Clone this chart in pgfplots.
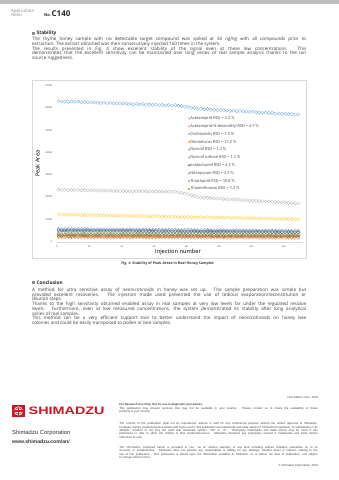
\documentclass[border=0pt]{standalone}
\usepackage{pgfplots}
\usepackage{pgfplotstable}
\pgfplotsset{compat=1.18}
\usepackage{fontspec}
\setmainfont{Open Sans}
\newfontfamily\chartfont{Carlito}
\newfontfamily\arialfont{Liberation Sans}
\definecolor{cA}{HTML}{5B9BD5}
\definecolor{cAN}{HTML}{ED7D31}
\definecolor{cC}{HTML}{A5A5A5}
\definecolor{cD}{HTML}{FFC000}
\definecolor{cF}{HTML}{4472C4}
\definecolor{cFS}{HTML}{70AD47}
\definecolor{cI}{HTML}{264478}
\definecolor{cN}{HTML}{9E480E}
\definecolor{cT}{HTML}{636363}
\definecolor{cTM}{HTML}{997300}
\definecolor{txt}{HTML}{3C3C3C}
\definecolor{axgray}{HTML}{595959}
\definecolor{boxgray}{HTML}{D9D9D9}
\definecolor{shred}{RGB}{205,22,34}

\pgfplotstableread{
x A AN C D F FS I N T TM
1 63170 2040 23360 12300 5740 4530 5120 2570 3420 3250
3 62920 2020 23230 12110 5660 4480 5090 2530 3340 2850
5 62980 2020 23270 12170 5690 4500 5090 2550 3350 3070
7 62740 2000 23140 12000 5620 4450 5060 2510 3330 2690
9 62920 2020 23240 12160 5690 4500 5060 2550 3390 3170
11 62750 2020 23150 12040 5640 4480 5050 2530 3340 2930
13 62890 2020 23220 12160 5680 4510 5040 2550 3360 3300
15 62560 1990 23060 11910 5580 4440 5010 2500 3320 2760
17 62640 1990 23090 12000 5610 4470 5010 2520 3360 3020
19 62500 1990 23030 11900 5580 4450 5000 2500 3310 2850
21 62630 2000 23090 12020 5630 4480 5010 2530 3330 3170
23 62380 1980 22960 11830 5550 4430 4980 2490 3310 2710
25 62440 1980 23000 11890 5580 4450 4980 2510 3340 3060
27 62200 1960 22870 11720 5510 4400 4950 2470 3260 2920
29 62380 1980 22970 11880 5580 4450 4950 2510 3300 3240
31 62210 1980 22880 11760 5520 4430 4930 2490 3310 2780
33 62350 1980 22950 11880 5570 4460 4930 2510 3350 3200
35 62020 1950 22790 11630 5470 4390 4900 2460 3250 2800
37 62100 1950 22820 11720 5500 4420 4900 2480 3270 3030
39 61960 1950 22760 11620 5470 4400 4890 2460 3280 2640
41 62090 1960 22820 11740 5520 4430 4900 2490 3320 3120
43 61840 1940 22690 11550 5440 4380 4870 2450 3240 2880
45 61900 1940 22730 11610 5470 4400 4870 2470 3250 3250
47 61660 1920 22600 11440 5400 4350 4840 2430 3230 2710
49 61840 1940 22700 11600 5470 4400 4840 2470 3290 2970
51 61670 1940 22610 11480 5420 4380 4830 2450 3240 2810
53 61810 1940 22680 11600 5460 4410 4820 2470 3260 3120
55 61480 1910 22520 11350 5360 4340 4790 2420 3220 2660
57 61560 1910 22550 11440 5390 4370 4790 2440 3260 3020
59 61420 1910 22490 11340 5360 4350 4780 2420 3210 2870
61 61550 1920 22550 11460 5410 4380 4790 2450 3230 3190
63 61300 1900 22420 11270 5330 4330 4760 2410 3210 2730
65 61360 1900 22460 11330 5360 4350 4760 2430 3240 3150
67 61120 1880 22330 11160 5290 4300 4730 2390 3160 2750
69 61300 1900 22430 11320 5360 4350 4730 2430 3200 2980
71 61130 1900 22340 11200 5300 4330 4710 2410 3210 2600
73 61270 1900 22410 11320 5350 4360 4710 2430 3250 3070
75 60940 1870 22250 11070 5250 4290 4680 2380 3150 2830
77 60860 1870 21950 11160 5280 4320 4680 2400 3170 3210
79 60560 1870 21560 11060 5250 4300 4670 2380 3180 2660
81 60530 1880 21290 11180 5300 4330 4680 2410 3220 2920
83 60110 1860 20830 10990 5220 4280 4650 2370 3140 2760
85 60020 1860 20530 11050 5250 4300 4650 2390 3150 3070
87 59620 1840 20080 10880 5180 4250 4620 2350 3130 2610
89 59640 1860 19850 11040 5250 4300 4620 2390 3190 2970
91 59440 1860 19700 10920 5200 4280 4610 2370 3140 2830
93 59540 1860 19710 11040 5240 4310 4600 2390 3160 3140
95 59190 1830 19490 10790 5140 4240 4570 2340 3120 2680
97 59240 1830 19460 10880 5170 4270 4570 2360 3160 3110
99 59070 1830 19340 10780 5140 4250 4560 2340 3110 2700
101 59170 1840 19340 10900 5190 4280 4570 2370 3130 2930
103 58890 1820 19150 10710 5110 4230 4540 2330 3110 2550
105 58920 1820 19130 10770 5140 4250 4540 2350 3140 3020
107 58650 1800 18950 10600 5070 4200 4510 2310 3060 2780
109 58810 1820 18980 10760 5140 4250 4510 2350 3100 3160
111 58600 1820 18830 10640 5080 4230 4490 2330 3110 2620
113 58710 1820 18840 10760 5130 4260 4490 2350 3150 2870
115 58360 1790 18620 10510 5030 4190 4460 2300 3050 2710
117 58400 1790 18600 10600 5060 4220 4460 2320 3070 3030
119 58240 1790 18470 10500 5030 4200 4450 2300 3080 2560
121 58340 1800 18470 10620 5080 4230 4460 2330 3120 2920
123 58050 1780 18290 10430 5000 4180 4430 2290 3040 2780
125 58090 1780 18260 10490 5030 4200 4430 2310 3050 3090
127 57820 1760 18080 10320 4960 4150 4400 2270 3030 2630
129 57970 1780 18110 10480 5030 4200 4400 2310 3090 3060
131 57770 1780 17970 10360 4980 4180 4390 2290 3040 2660
133 57880 1780 17970 10480 5020 4210 4380 2310 3060 2880
135 57520 1750 17750 10230 4920 4140 4350 2260 3020 2500
137 57570 1750 17730 10320 4950 4170 4350 2280 3060 2980
139 57410 1750 17600 10220 4920 4150 4340 2260 3010 2730
141 57500 1760 17610 10340 4970 4180 4350 2290 3030 3110
143 57220 1740 17420 10150 4890 4130 4320 2250 3010 2570
145 57260 1740 17390 10210 4920 4150 4320 2270 3040 2820
147 56980 1720 17210 10040 4850 4100 4290 2230 2960 2660
149 57140 1740 17250 10200 4920 4150 4290 2270 3000 2980
}\datatable

\newcommand{\bodyfont}{\fontsize{8}{8.3}\selectfont\color{txt}}
\newcommand{\legalfont}{\arialfont\fontsize{5}{5.85}\selectfont\color{txt}}

\begin{document}
\begin{tikzpicture}
\begin{scope}[x=1.755pt,y=-1.755pt]
\path[use as bounding box] (0,0) rectangle (339,480);
\fill[white] (0,0) rectangle (339,480);
% header
\fill[black!25] (0,0) rectangle (339,4);
\node[anchor=north west, inner sep=0, align=left, font=\fontsize{7.8}{8.2}\selectfont, text=black!45] at (11,8.6) {Application\\News};
\node[anchor=base west, inner sep=0, text=black!85] at (44,16.2) {\fontsize{7}{7}\selectfont\bfseries No.\,\fontsize{14}{14}\selectfont C140};
% Stability
\fill[black!45] (32,31.9) rectangle (34.8,34.7);
\node[anchor=west, inner sep=0, font=\fontsize{8.4}{9}\selectfont\bfseries, text=black!85] at (36.5,33.3) {Stability};
\node[anchor=north west, inner sep=0] at (32,37.2) {\parbox[t]{481pt}{\bodyfont
The thyme honey sample with no detectable target compound was spiked at 50 ng/kg with all compounds prior to\linebreak extraction. The extract obtained was then consecutively injected 150 times in the system.\par
The results presented in Fig.~4 show excellent stability of the signal even at these low concentrations. This\linebreak demonstrates that the excellent sensitivity can be maintained over long series of real sample analysis thanks to the ion\linebreak source ruggedness.}};
% chart frame
\draw[boxgray, line width=0.6pt] (32,80) rectangle (306,258);
\node[anchor=center, inner sep=0, font=\fontsize{6.3}{7}\selectfont\bfseries, text=txt] at (167.6,264) {Fig. 4\enspace Stability of Peak Areas in Real Honey Samples};
% Conclusion
\fill[black!45] (32,281.3) rectangle (34.8,284.1);
\node[anchor=west, inner sep=0, font=\fontsize{8.4}{9}\selectfont\bfseries, text=black!85] at (36.5,282.7) {Conclusion};
\node[anchor=north west, inner sep=0] at (32,287.9) {\parbox[t]{481pt}{\bodyfont
A method for ultra sensitive assay of neonicotinoids in honey was set up. The sample preparation was simple but\linebreak provided excellent recoveries. The injection mode used prevented the use of tedious evaporation/reconstitution or\linebreak dilution steps.\par
Thanks to the high sensitivity obtained enabled assay in real samples at very low levels far under the regulated residue\linebreak levels. Furthermore, even at low measured concentrations, the system demonstrated its stability after long analytical\linebreak series of real samples.\par
This method can be a very efficient support tool to better understand the impact of neonicotinoids on honey bee\linebreak colonies and could be easily transposed to pollen or bee samples.}};
% footer
\node[anchor=east, inner sep=0, font=\arialfont\fontsize{5}{6}\selectfont, text=txt] at (318,397) {First Edition: Dec. 2018};
\fill[shred] (12,405) rectangle (25,417);
\fill[white] (18.5,411) circle (4.6);
\fill[shred] (18.5,411) circle (3.6);
\fill[white] (18.5,411) circle (2.9);
\fill[shred] (17.8,406.5) rectangle (19.2,415.5);
\fill[shred] (14,410.3) rectangle (23,411.7);
\node[anchor=west, inner sep=0, text=shred, xscale=1.33, font=\arialfont\fontsize{19}{19}\selectfont\bfseries] at (28.5,411.2) {SHIMADZU};
\node[anchor=west, inner sep=0, font=\arialfont\fontsize{10.3}{11}\selectfont, text=black!80] at (12,432.7) {Shimadzu Corporation};
\node[anchor=west, inner sep=0, font=\arialfont\fontsize{9}{10}\selectfont\bfseries, text=black!80] at (12,441.5) {www.shimadzu.com/an/};
\node[anchor=north west, inner sep=0] at (119.3,403.6) {\parbox[t]{348pt}{\legalfont
\textbf{For Research Use Only. Not for use in diagnostic procedures.}\par
This publication may present services that may not be available in your country. Please contact us to check the availability of these\linebreak products in your country.}};
\node[anchor=north west, inner sep=0] at (119.3,422.6) {\parbox[t]{348pt}{\legalfont
The content of this publication shall not be reproduced, altered or sold for any commercial purpose without the written approval of Shimadzu.\linebreak Company names, products/service names and logos used in this publication are trademarks and trade names of Shimadzu Corporation, its subsidiaries or its\linebreak affiliates, whether or not they are used with trademark symbol ``TM'' or ``\textregistered''. Third-party trademarks and trade names may be used in this\linebreak publication to refer to either the entities or their products/services. Shimadzu disclaims any proprietary interest in trademarks and trade names\linebreak other than its own.}};
\node[anchor=north west, inner sep=0] at (119.3,446.3) {\parbox[t]{348pt}{\legalfont
The information contained herein is provided to you ``as is'' without warranty of any kind including without limitation warranties as to its\linebreak accuracy or completeness. Shimadzu does not assume any responsibility or liability for any damage, whether direct or indirect, relating to the\linebreak use of this publication. This publication is based upon the information available to Shimadzu on or before the date of publication, and subject\linebreak to change without notice.}};
\node[anchor=east, inner sep=0, font=\arialfont\fontsize{5}{6}\selectfont, text=txt] at (318,466) {\textcopyright\ Shimadzu Corporation, 2018};
\end{scope}

\begin{axis}[
  at={(100.04pt,-424.2pt)}, anchor=south west,
  scale only axis, width=431.7pt, height=273.8pt,
  xmin=0, xmax=152, ymin=0, ymax=70000,
  xtick={0,20,...,140}, ytick={0,10000,...,70000},
  scaled y ticks=false,
  /pgf/number format/1000 sep={},
  /pgf/number format/assume math mode=true,
  tick label style={font=\chartfont\fontsize{4.6}{5}\selectfont, text=axgray},
  yticklabel style={xshift=-5pt},
  xticklabel style={yshift=-3pt},
  major tick length=0pt,
  axis x line*=bottom, axis y line*=left,
  x axis line style={draw=boxgray, line width=0.5pt},
  y axis line style={draw=none},
  xlabel={Injection number}, ylabel={Peak Area},
  label style={font=\chartfont\fontsize{9.5}{10}\selectfont, text=axgray},
  every axis x label/.style={at={(axis description cs:0.492,-0.066)}, anchor=center},
  every axis y label/.style={at={(axis description cs:-0.079,0.5)}, anchor=center, rotate=90},
  every axis plot/.append style={only marks, mark=o, mark size=2.9pt, line width=0.35pt},
  legend style={at={(0.526,0.812)}, anchor=north west, draw=none, fill=none,
    font=\chartfont\fontsize{7.8}{8}\selectfont, text=axgray, row sep=5.8pt,
    nodes={inner sep=0.5pt}, cells={anchor=west}},
  legend image code/.code={\draw[#1, mark size=1.6pt] plot coordinates {(1.8pt,0pt)};},
  clip=false,
]
\addplot[cA] table[x=x,y=A]{\datatable}; \addlegendentry{Acetamiprid RSD = 3.2 \%}
\addplot[cAN] table[x=x,y=AN]{\datatable}; \addlegendentry{Acetamiprid-N-desmethyl RSD = 4.9 \%}
\addplot[cC] table[x=x,y=C]{\datatable}; \addlegendentry{Clothianidin RSD = 7.3 \%}
\addplot[cD, legend image post style={mark=*, fill=cD}] table[x=x,y=D]{\datatable}; \addlegendentry{Dinotefuran RSD = 17.2 \%}
\addplot[cF] table[x=x,y=F]{\datatable}; \addlegendentry{Fipronil RSD = 1.3 \%}
\addplot[cFS] table[x=x,y=FS]{\datatable}; \addlegendentry{Fipronil sulfone RSD = 1.1 \%}
\addplot[cI] table[x=x,y=I]{\datatable}; \addlegendentry{Imidacloprid RSD = 6.1 \%}
\addplot[cN] table[x=x,y=N]{\datatable}; \addlegendentry{Nitenpyram RSD = 3.5 \%}
\addplot[cT] table[x=x,y=T]{\datatable}; \addlegendentry{Thiacloprid RSD = 10.8 \%}
\addplot[cTM] table[x=x,y=TM]{\datatable}; \addlegendentry{Thiamethoxam RSD = 7.2 \%}
\end{axis}
\end{tikzpicture}
\end{document}
